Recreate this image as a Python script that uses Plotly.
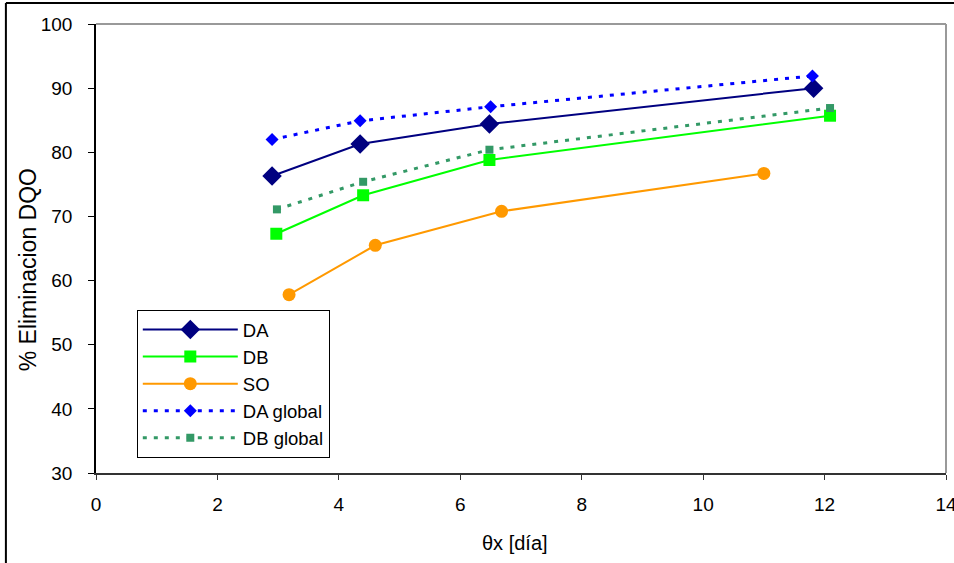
import plotly.graph_objects as go

# Data
da_x = [2.9, 4.35, 6.48, 11.82]
da_y = [76.3, 81.3, 84.4, 90.0]

db_x = [2.97, 4.4, 6.48, 12.09]
db_y = [67.3, 73.3, 78.8, 85.7]

so_x = [3.18, 4.6, 6.68, 11.0]
so_y = [57.8, 65.5, 70.8, 76.7]

dag_x = [2.9, 4.35, 6.5, 11.8]
dag_y = [82.0, 84.9, 87.1, 91.9]

dbg_x = [2.98, 4.4, 6.48, 12.09]
dbg_y = [71.1, 75.4, 80.4, 86.9]

x_ticks = [0, 2, 4, 6, 8, 10, 12, 14]
y_ticks = [30, 40, 50, 60, 70, 80, 90, 100]

x_title = "θx [día]"
y_title = "% Eliminacion DQO"

FONT = "Liberation Sans, Arial, sans-serif"

fig = go.Figure()
fig.add_trace(go.Scatter(x=da_x, y=da_y, name="DA", mode="lines+markers",
                         line=dict(color="#000080", width=2),
                         marker=dict(symbol="diamond", size=15, color="#000080")))
fig.add_trace(go.Scatter(x=db_x, y=db_y, name="DB", mode="lines+markers",
                         line=dict(color="#00FF00", width=2),
                         marker=dict(symbol="square", size=12, color="#00FF00")))
fig.add_trace(go.Scatter(x=so_x, y=so_y, name="SO", mode="lines+markers",
                         line=dict(color="#FF9900", width=2),
                         marker=dict(symbol="circle", size=13, color="#FF9900")))
fig.add_trace(go.Scatter(x=dag_x, y=dag_y, name="DA global", mode="lines+markers",
                         line=dict(color="#0000FF", width=3, dash="4px,7px"),
                         marker=dict(symbol="diamond", size=10, color="#0000FF")))
fig.add_trace(go.Scatter(x=dbg_x, y=dbg_y, name="DB global", mode="lines+markers",
                         line=dict(color="#339966", width=3, dash="4px,7px"),
                         marker=dict(symbol="square", size=8, color="#339966")))

# Plot-area top/right border (gray) and outer image frame
shapes = [
    dict(type="line", xref="paper", yref="paper", x0=0, x1=1, y0=1, y1=1,
         line=dict(color="#999999", width=2)),
    dict(type="line", xref="paper", yref="paper", x0=1, x1=1, y0=0, y1=1,
         line=dict(color="#999999", width=2)),
    dict(type="line", xref="paper", yref="paper", x0=-0.106, x1=1.05, y0=1.047, y1=1.047,
         line=dict(color="#000000", width=2)),
    dict(type="line", xref="paper", yref="paper", x0=-0.106, x1=-0.106, y0=-0.25, y1=1.047,
         line=dict(color="#000000", width=2)),
]

annotations = [
    dict(text=x_title, xref="paper", yref="paper", x=0.4935, y=-0.156,
         xanchor="center", yanchor="middle", showarrow=False,
         font=dict(family=FONT, size=20, color="black")),
    dict(text=y_title, xref="paper", yref="paper", x=-0.08, y=0.4515,
         xanchor="center", yanchor="middle", showarrow=False, textangle=-90,
         font=dict(family=FONT, size=23, color="black")),
]

fig.update_layout(
    width=954, height=563,
    margin=dict(l=96, r=8, t=24, b=90),
    paper_bgcolor="white", plot_bgcolor="white",
    font=dict(family=FONT, size=19, color="black"),
    showlegend=True,
    legend=dict(x=0.048, y=0.363, xanchor="left", yanchor="top",
                bordercolor="black", borderwidth=1, bgcolor="white",
                font=dict(family=FONT, size=18.5), itemwidth=95,
                tracegroupgap=0),
    shapes=shapes,
    annotations=annotations,
    xaxis=dict(range=[0, 14], tickvals=x_ticks, showgrid=False, zeroline=False,
               showline=True, linecolor="#333333", linewidth=2,
               ticks="outside", ticklen=5, tickcolor="#333333",
               ticklabelstandoff=8, ticklabeloverflow="allow", automargin=False,
               tickfont=dict(size=19)),
    yaxis=dict(range=[30, 100], tickvals=y_ticks, showgrid=False, zeroline=False,
               showline=True, linecolor="black", linewidth=1.5,
               ticks="outside", ticklen=6, tickcolor="black",
               ticklabelstandoff=12, automargin=False,
               tickfont=dict(size=19)),
)

fig.write_html("out.html")
